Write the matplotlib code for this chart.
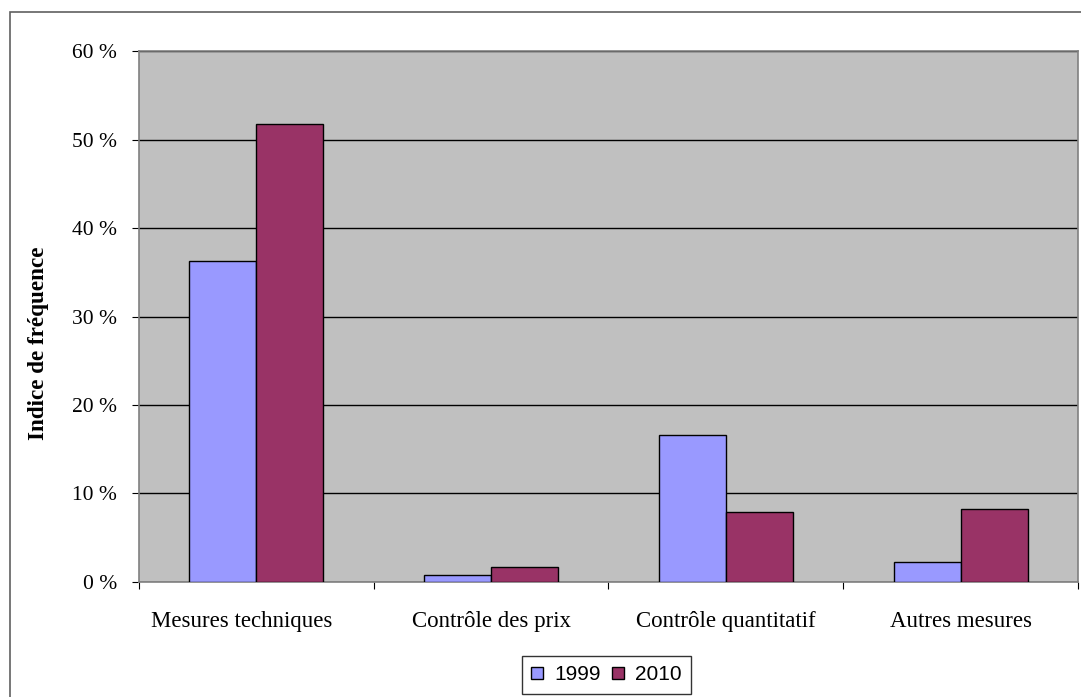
import matplotlib
matplotlib.use("Agg")
import numpy as np
from matplotlib import pyplot as plt
from matplotlib.patches import Rectangle
from matplotlib.transforms import ScaledTranslation

# Data
categories = ["Mesures techniques", "Contrôle des prix", "Contrôle quantitatif", "Autres mesures"]
years = ["1999", "2010"]
v1999 = [36.3, 0.8, 16.6, 2.3]
v2010 = [51.8, 1.7, 7.9, 8.2]
yticks = [0, 10, 20, 30, 40, 50, 60]

fig = plt.figure(figsize=(10.81, 6.97), dpi=100)
ax = fig.add_axes([0.1286, 0.165, 0.8686, 0.7618])
ax.set_facecolor("#c0c0c0")

x = np.arange(len(categories))
w = 0.285
ax.bar(x - w / 2, v1999, w, color="#9999ff", edgecolor="black", linewidth=1, label=years[0], zorder=3)
ax.bar(x + w / 2, v2010, w, color="#993366", edgecolor="black", linewidth=1, label=years[1], zorder=3)

ax.set_xlim(-0.5, len(categories) - 0.5)
ax.set_ylim(0, 60)
ax.set_yticks(yticks)
ax.set_yticklabels(["%d %%" % t for t in yticks], fontfamily="Liberation Serif", fontsize=15.5)
ax.yaxis.grid(True, color="black", linewidth=1, zorder=1)

# category ticks between groups
ax.set_xticks(np.arange(len(categories) + 1) - 0.5)
ax.set_xticklabels([])
ax.set_xticks(x, minor=True)
ax.set_xticklabels(categories, minor=True, fontfamily="Liberation Serif", fontsize=16.5)
ax.tick_params(axis="x", which="minor", length=0, pad=21)
ax.tick_params(axis="x", which="major", length=5, direction="out")
ax.tick_params(axis="y", length=5, direction="out", pad=11)

# first label sits a bit left of its group in the original
first = ax.get_xticklabels(minor=True)[0]
first.set_transform(first.get_transform() + ScaledTranslation(-15 / 100, 0, fig.dpi_scale_trans))

for s in ax.spines.values():
    s.set_color("#808080")
    s.set_linewidth(1.2)

ax.set_ylabel("Indice de fréquence", fontfamily="Liberation Serif", fontweight="bold", fontsize=16.7)
ax.yaxis.set_label_coords(-0.0955, 0.45)

leg = fig.legend(loc="center", bbox_to_anchor=(606.5 / 1081, 1 - 675 / 697), ncol=2, frameon=True,
                 prop={"family": "Liberation Sans", "size": 15}, handlelength=0.55, handleheight=0.55,
                 handletextpad=0.55, columnspacing=0.55, borderpad=0.45, fancybox=False)
leg.get_frame().set_edgecolor("black")
leg.get_frame().set_linewidth(1)

# outer chart border
fig.patches.append(Rectangle((10 / 1081, -0.01), 1.1, 1 - 12 / 697 + 0.01, transform=fig.transFigure,
                             fill=False, edgecolor="#606060", linewidth=1.2))

fig.savefig("out.png", dpi=100)
